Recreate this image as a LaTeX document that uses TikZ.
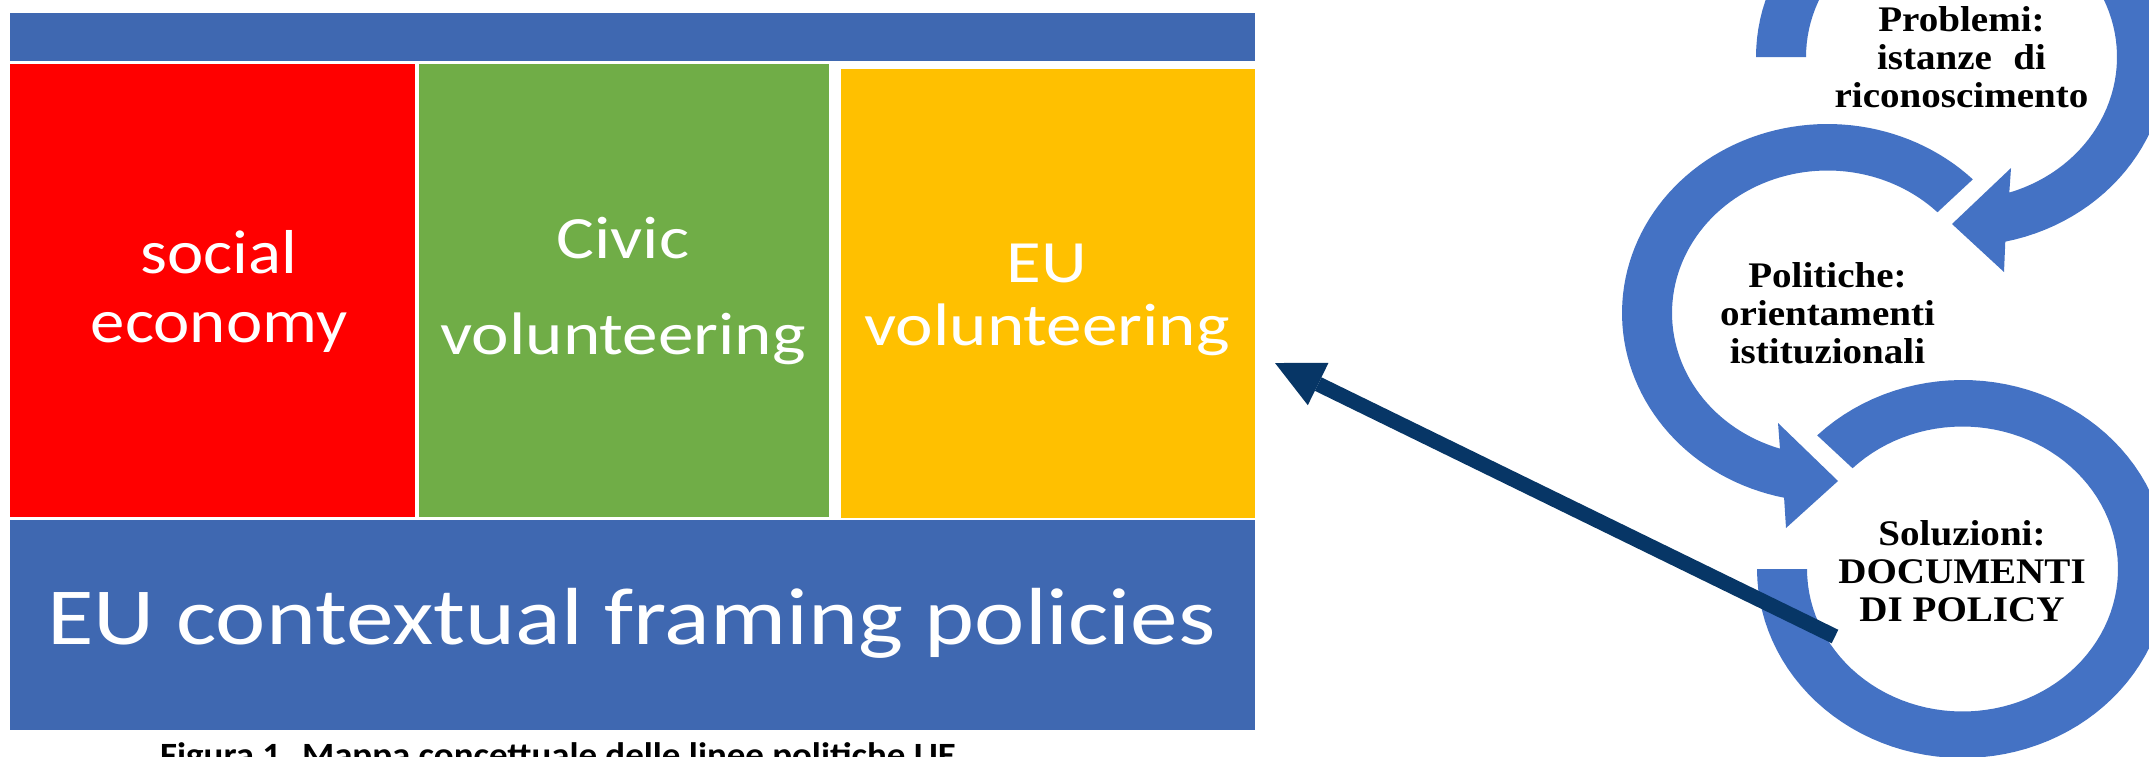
\documentclass[tikz,border=0pt]{standalone}
\usepackage{fontspec}
\setmainfont{Carlito}
\newfontfamily\timesb{Liberation Serif}
\usetikzlibrary{arrows.meta}
\definecolor{barblue}{RGB}{63,104,177}
\definecolor{ringblue}{RGB}{68,114,196}
\definecolor{navyarrow}{RGB}{7,54,102}
\definecolor{boxred}{RGB}{255,0,0}
\definecolor{boxgreen}{RGB}{112,173,71}
\definecolor{boxyellow}{RGB}{255,192,0}
\begin{document}
\begin{tikzpicture}[x=1pt,y=-1pt,
  box/.style={draw=white, line width=1.5pt, anchor=north west, inner sep=0pt},
  boxtext/.style={text=white, inner sep=0pt, anchor=base},
  ringtext/.style={text=black, inner sep=0pt, anchor=base, xscale=1.085,
    font=\timesb\bfseries\fontsize{36}{38}\selectfont},
  ring/.style={fill=ringblue, draw=none},
  link/.style={draw=navyarrow, line width=15pt,
    -{Triangle[length=48pt,width=47pt,line width=0pt]}}
]
\useasboundingbox (0,0) rectangle (2149,756);
\clip (0,0) rectangle (2149,756);
\fill[white] (0,0) rectangle (2149,756);

% ---- left block ----
\node[box, fill=barblue, minimum width=1247pt, minimum height=50pt] (topbar) at (8,11) {};
\node[box, fill=boxred, minimum width=407pt, minimum height=455pt] (redbox) at (8,62) {};
\node[box, fill=boxgreen, minimum width=412pt, minimum height=455pt] (greenbox) at (417,62) {};
\node[box, fill=boxyellow, minimum width=416pt, minimum height=454pt] (yellowbox) at (839,67) {};
\node[box, fill=barblue, minimum width=1247pt, minimum height=212pt] (bottombar) at (8,518) {};

\node[boxtext, xscale=1.11, font=\fontsize{62}{69}\selectfont] (tsoc) at (219,273)
  {\begin{tabular}[t]{@{}c@{}}social\\economy\end{tabular}};
\node[boxtext, xscale=1.185, font=\fontsize{60}{96}\selectfont] (tciv) at (623,258)
  {\begin{tabular}[t]{@{}c@{}}Civic\\volunteering\end{tabular}};
\node[boxtext, xscale=1.185, font=\fontsize{60}{63}\selectfont] (teuv) at (1047,282)
  {\begin{tabular}[t]{@{}c@{}}EU\\volunteering\end{tabular}};
\node[boxtext, xscale=1.176, font=\fontsize{81}{97}\selectfont] (tctx) at (631.5,644)
  {EU contextual framing policies};

\node[anchor=base west, inner sep=0pt, xscale=1.085,
  font=\bfseries\fontsize{34}{40}\selectfont] (caption) at (160,766)
  {Figura 1. Mappa concettuale delle linee politiche UE};

% ---- circular arrows ----
\fill[ring] plot[domain=180:437.7, samples=90] ({1961.5+205.5*cos(\x)},{57+189*sin(\x)})
  -- (2004,272) -- (1952,224) -- (2011,168)
  -- plot[domain=432.1:180, samples=90] ({1961.5+155.5*cos(\x)},{57+142.5*sin(\x)}) -- cycle;
\fill[ring] plot[domain=-45:-257.8, samples=90] ({1827.5+205.5*cos(\x)},{313+189*sin(\x)})
  -- (1786,528) -- (1838,481) -- (1778,423)
  -- plot[domain=-252.2:-45, samples=90] ({1827.5+155.5*cos(\x)},{313+142.5*sin(\x)}) -- cycle;
\fill[ring] plot[domain=225:540, samples=100] ({1962.5+205.5*cos(\x)},{569+189*sin(\x)})
  -- plot[domain=540:225, samples=100] ({1962.5+155.5*cos(\x)},{569+142.5*sin(\x)}) -- cycle;

\node[ringtext] (problemi) at (1961.5,31)
  {\begin{tabular}[t]{@{}c@{}}Problemi:\\istanze\hspace{0.55em}di\\riconoscimento\end{tabular}};
\node[ringtext] (politiche) at (1827.5,287)
  {\begin{tabular}[t]{@{}c@{}}Politiche:\\orientamenti\\istituzionali\end{tabular}};
\node[ringtext] (soluzioni) at (1962,545)
  {\begin{tabular}[t]{@{}c@{}}Soluzioni:\\DOCUMENTI\\DI POLICY\end{tabular}};

% ---- connector ----
\coordinate (arrstart) at (1835,636.5);
\coordinate (arrend) at (1275,363);
\draw[link] (arrstart) -- (arrend);
\end{tikzpicture}
\end{document}
